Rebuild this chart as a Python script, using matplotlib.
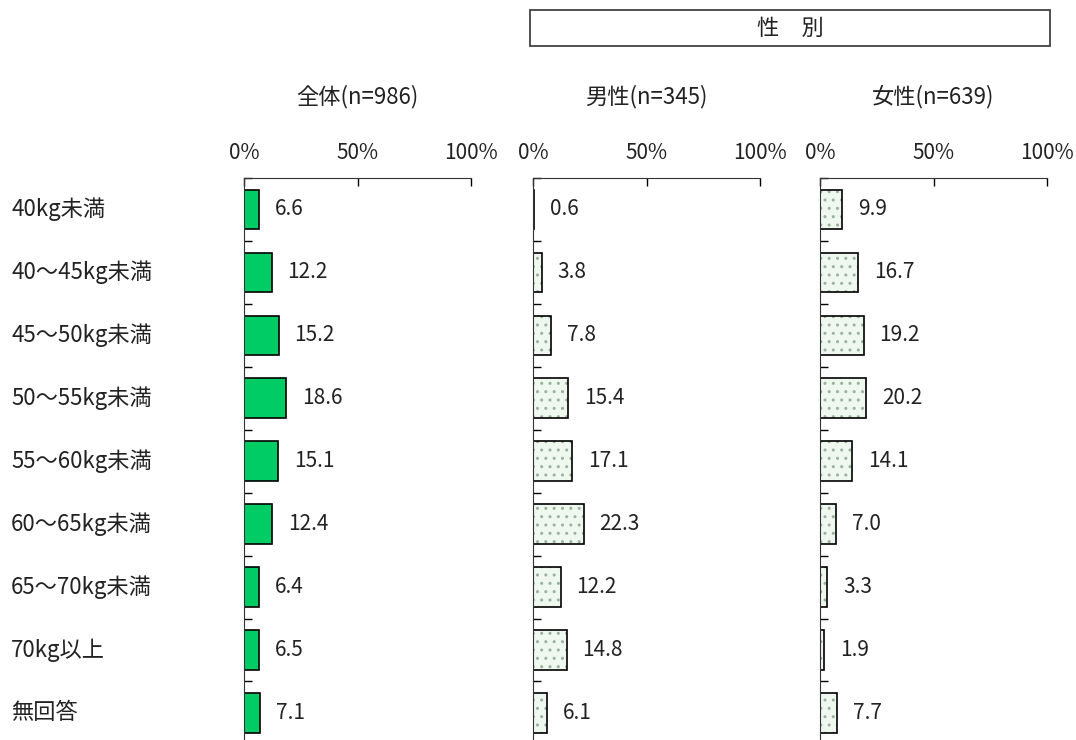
import numpy as np
import matplotlib.pyplot as plt
from matplotlib.patches import Rectangle

plt.rcParams['font.family'] = ['Noto Sans CJK JP', 'DejaVu Sans']
plt.rcParams['hatch.linewidth'] = 1.0

categories = ['40kg未満', '40～45kg未満', '45～50kg未満', '50～55kg未満', '55～60kg未満',
              '60～65kg未満', '65～70kg未満', '70kg以上', '無回答']
zentai = [6.6, 12.2, 15.2, 18.6, 15.1, 12.4, 6.4, 6.5, 7.1]
dansei = [0.6, 3.8, 7.8, 15.4, 17.1, 22.3, 12.2, 14.8, 6.1]
josei = [9.9, 16.7, 19.2, 20.2, 14.1, 7.0, 3.3, 1.9, 7.7]
titles = ['全体(n=986)', '男性(n=345)', '女性(n=639)']

W, H = 1076, 740
fig = plt.figure(figsize=(W / 100, H / 100), dpi=100)

lefts = [244, 533, 820]
aw = 227
top = 178
y = np.arange(len(categories))

for k, (vals, ttl) in enumerate(zip([zentai, dansei, josei], titles)):
    ax = fig.add_axes([lefts[k] / W, 0, aw / W, (H - top) / H])
    ax.set_xlim(0, 100)
    ax.set_ylim(8.43, -0.5)
    if k == 0:
        ax.barh(y, vals, height=0.63, color='#00CC66', edgecolor='black', linewidth=1.2)
    else:
        ax.barh(y, vals, height=0.63, color='#EFF8EF', edgecolor='#9AB0A0',
                linewidth=0, hatch='..')
        ax.barh(y, vals, height=0.63, fill=False, edgecolor='black', linewidth=1.2)
    for yi, v in zip(y, vals):
        ax.text(v + 7, yi, f'{v:.1f}', va='center', ha='left', fontsize=15, color='#222222')

    for s in ['right', 'bottom']:
        ax.spines[s].set_visible(False)
    ax.spines['top'].set_color('#333333')
    ax.spines['left'].set_color('#333333')
    ax.xaxis.tick_top()
    ax.set_xticks([0, 50, 100])
    ax.set_xticklabels(['0%', '50%', '100%'], fontsize=15, color='#222222')
    ax.tick_params(axis='x', direction='in', length=6, pad=10, width=1)
    ax.set_yticks(np.arange(-0.5, 8.5, 1))
    ax.set_yticklabels([])
    ax.tick_params(axis='y', direction='in', length=6, width=1)
    fig.text((lefts[k] + aw / 2) / W, 1 - 97 / H, ttl, ha='center', va='center',
             fontsize=16, color='#222222')

for yi, c in zip(y, categories):
    # row centre in figure coords
    yf = (H - top) / H * (8.43 - yi) / (8.43 + 0.5)
    fig.text(11 / W, yf, c, ha='left', va='center', fontsize=16, color='#222222')

box = Rectangle((530 / W, 1 - 46 / H), 520 / W, 36 / H, transform=fig.transFigure,
                fill=False, edgecolor='#333333', linewidth=1.2)
fig.add_artist(box)
fig.text(790 / W, 1 - 28 / H, '性　別', ha='center', va='center', fontsize=16, color='#222222')

fig.savefig('out.png', dpi=100)
